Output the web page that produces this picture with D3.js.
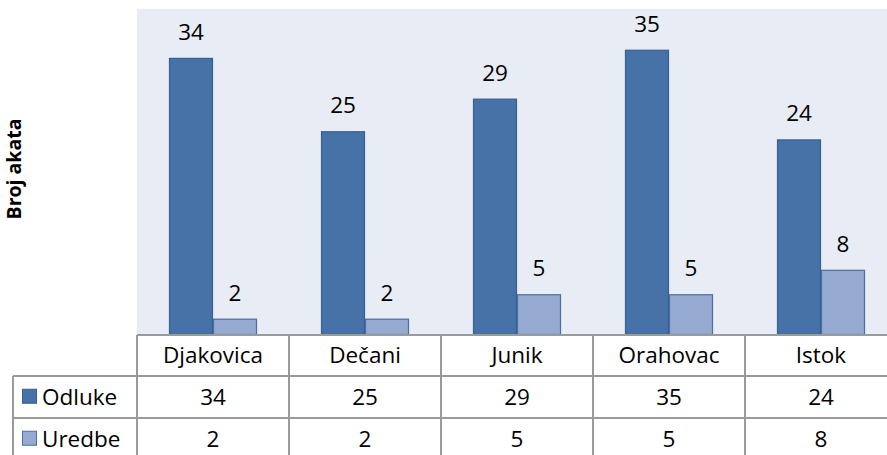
<!DOCTYPE html>
<html>
<head>
<meta charset="utf-8">
<script src="https://cdn.jsdelivr.net/npm/d3@7"></script>
<style>
  html, body { margin: 0; padding: 0; background: #fff; }
  svg { display: block; }
</style>
</head>
<body>
<div id="chart"></div>
<script>
const categories = ["Djakovica", "Dečani", "Junik", "Orahovac", "Istok"];
const seriesNames = ["Odluke", "Uredbe"];
const odluke = [34, 25, 29, 35, 24];
const uredbe = [2, 2, 5, 5, 8];
const yTitle = "Broj akata";

const width = 887;
const height = 455;
const font = "'Open Sans', sans-serif";
const fontSize = 22.5;

const fills = { Odluke: "#4672a8", Uredbe: "#95a9d1" };
const strokes = { Odluke: "#375f8f", Uredbe: "#4a6fa0" };

// plot area
const plotLeft = 137, plotTop = 9, plotBottom = 335;
const bandW = 152;
const plotRight = plotLeft + bandW * categories.length;

const x = d3.scaleBand().domain(categories).range([plotLeft, plotRight]);
const xs = d3.scaleBand().domain(seriesNames).range([32, 120]);
const y = d3.scaleLinear().domain([0, 40]).range([plotBottom, plotTop]);

const seriesData = { Odluke: odluke, Uredbe: uredbe };

const svg = d3.select("#chart").append("svg")
    .attr("width", width)
    .attr("height", height);

svg.append("rect")
    .attr("x", plotLeft).attr("y", plotTop)
    .attr("width", plotRight - plotLeft).attr("height", plotBottom - plotTop)
    .attr("fill", "#e8ecf4");

// bars
const groups = svg.append("g")
    .selectAll("g")
    .data(categories)
    .enter()
    .append("g")
    .attr("transform", (c) => `translate(${x(c)},0)`);

groups.selectAll("rect")
    .data((c, i) => seriesNames.map((s) => ({ s, v: seriesData[s][i] })))
    .enter()
    .append("rect")
    .attr("x", (d) => xs(d.s) + 0.5)
    .attr("y", (d) => y(d.v) + 0.5)
    .attr("width", xs.bandwidth() - 1)
    .attr("height", (d) => y(0) - y(d.v) - 1)
    .attr("fill", (d) => fills[d.s])
    .attr("stroke", (d) => strokes[d.s])
    .attr("stroke-width", 1.2);

groups.selectAll("text")
    .data((c, i) => seriesNames.map((s) => ({ s, v: seriesData[s][i] })))
    .enter()
    .append("text")
    .attr("x", (d) => xs(d.s) + xs.bandwidth() / 2)
    .attr("y", (d) => y(d.v) - 18)
    .attr("text-anchor", "middle")
    .attr("font-family", font)
    .attr("font-size", fontSize)
    .attr("fill", "#000")
    .text((d) => d.v);

// y-axis title
svg.append("text")
    .attr("transform", `translate(21, 169) rotate(-90)`)
    .attr("text-anchor", "middle")
    .attr("font-family", font)
    .attr("font-weight", "bold")
    .attr("font-size", 19.5)
    .text(yTitle);

// data table
const rowTop = [plotBottom, 376, 418];
const rowH = 41.5;
const tableLeft = 13;
const grid = svg.append("g")
    .attr("stroke", "#9a9a9a")
    .attr("stroke-width", 2)
    .attr("fill", "none");

// horizontal lines
grid.append("line").attr("x1", plotLeft).attr("x2", plotRight).attr("y1", rowTop[0]).attr("y2", rowTop[0]);
grid.append("line").attr("x1", tableLeft).attr("x2", plotRight).attr("y1", rowTop[1]).attr("y2", rowTop[1]);
grid.append("line").attr("x1", tableLeft).attr("x2", plotRight).attr("y1", rowTop[2]).attr("y2", rowTop[2]);
grid.append("line").attr("x1", tableLeft).attr("x2", tableLeft).attr("y1", rowTop[1]).attr("y2", height + 10);

// vertical lines
grid.selectAll("line.v")
    .data(categories.concat(["end"]))
    .enter()
    .append("line")
    .attr("class", "v")
    .attr("x1", (c, i) => plotLeft + i * x.bandwidth())
    .attr("x2", (c, i) => plotLeft + i * x.bandwidth())
    .attr("y1", rowTop[0])
    .attr("y2", height + 10);

const textG = svg.append("g")
    .attr("font-family", font)
    .attr("font-size", fontSize)
    .attr("fill", "#000");

textG.selectAll("text.cat")
    .data(categories)
    .enter()
    .append("text")
    .attr("x", (c) => x(c) + x.bandwidth() / 2)
    .attr("y", rowTop[0] + rowH / 2 + 7.5)
    .attr("text-anchor", "middle")
    .text((c) => c);

seriesNames.forEach((s, r) => {
    const cy = rowTop[r + 1] + rowH / 2;
    textG.selectAll(`text.val${r}`)
        .data(seriesData[s])
        .enter()
        .append("text")
        .attr("x", (v, i) => x(categories[i]) + x.bandwidth() / 2)
        .attr("y", cy + 8)
        .attr("text-anchor", "middle")
        .text((v) => v);

    svg.append("rect")
        .attr("x", 22.5).attr("y", cy - 7.5)
        .attr("width", 14).attr("height", 14)
        .attr("fill", fills[s])
        .attr("stroke", strokes[s])
        .attr("stroke-width", 1);

    textG.append("text")
        .attr("x", 42)
        .attr("y", cy + 8)
        .text(s);
});
</script>
</body>
</html>
